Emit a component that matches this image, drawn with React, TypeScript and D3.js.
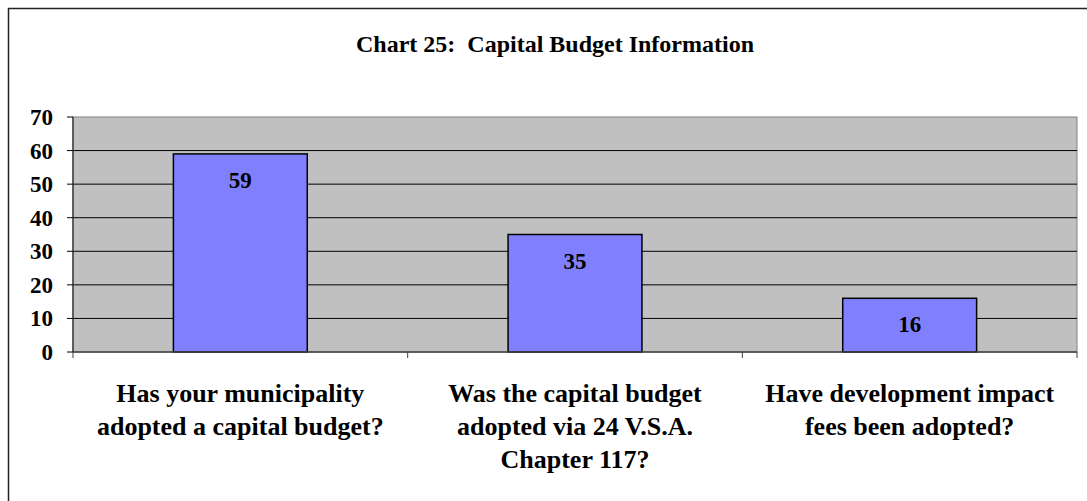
import React, { useEffect } from 'react';
import * as d3 from 'd3';

const title = 'Chart 25:  Capital Budget Information';
const categories = [
  ['Has your municipality', 'adopted a capital budget?'],
  ['Was the capital budget', 'adopted via 24 V.S.A.', 'Chapter 117?'],
  ['Have development impact', 'fees been adopted?'],
];
const values = [59, 35, 16];
const yTicks = [0, 10, 20, 30, 40, 50, 60, 70];

const App = () => {
  useEffect(() => {
    document.body.style.margin = '0';
  }, []);

  const width = 1087;
  const height = 501;
  const m = { left: 73, right: 1077, top: 117, bottom: 352 };
  const font = '"Liberation Serif", "Times New Roman", serif';

  const x = d3
    .scaleBand<number>()
    .domain(d3.range(values.length))
    .range([m.left, m.right])
    .paddingInner(0.6)
    .paddingOuter(0.3);
  const x0 = d3.scaleLinear().domain([0, values.length]).range([m.left, m.right]);
  const y = d3.scaleLinear().domain([0, 70]).range([m.bottom, m.top]);
  const cx = (i: number) => (x(i) as number) + x.bandwidth() / 2;

  return (
    <svg width={width} height={height} style={{ display: 'block' }} fontFamily={font}>
      <rect x={0} y={0} width={width} height={height} fill="#fff" />
      <rect x={8.5} y={8.5} width={width + 10} height={height + 10} fill="none" stroke="#222" strokeWidth={1.5} />
      <text x={555} y={52} textAnchor="middle" fontWeight="bold" fontSize={24} style={{ whiteSpace: 'pre' }}>
        {title}
      </text>

      {/* plot area */}
      <rect x={m.left} y={m.top} width={m.right - m.left} height={m.bottom - m.top} fill="#c0c0c0" stroke="#808080" />
      {yTicks.slice(1, -1).map((t) => (
        <line key={t} x1={m.left} x2={m.right} y1={y(t)} y2={y(t)} stroke="#000" strokeWidth={1} />
      ))}

      {values.map((v, i) => (
        <g key={i}>
          <rect
            x={x(i)}
            y={y(v)}
            width={x.bandwidth()}
            height={y(0) - y(v)}
            fill="#8080ff"
            stroke="#000"
            strokeWidth={1.5}
          />
          <text x={cx(i)} y={y(v) + 34} textAnchor="middle" fontWeight="bold" fontSize={23}>
            {v}
          </text>
        </g>
      ))}

      {/* y axis */}
      <line x1={m.left} x2={m.left} y1={m.top} y2={m.bottom} stroke="#404040" strokeWidth={1.5} />
      {yTicks.map((t) => (
        <g key={t}>
          <line x1={m.left - 6} x2={m.left} y1={y(t)} y2={y(t)} stroke="#000" />
          <text x={53} y={y(t) + 8} textAnchor="end" fontWeight="bold" fontSize={23}>
            {t}
          </text>
        </g>
      ))}

      {/* x axis */}
      <line x1={m.left} x2={m.right} y1={m.bottom} y2={m.bottom} stroke="#404040" strokeWidth={1.5} />
      {d3.range(values.length + 1).map((k) => (
        <line key={k} x1={x0(k)} x2={x0(k)} y1={m.bottom} y2={m.bottom + 6} stroke="#404040" />
      ))}
      {categories.map((lines, i) => (
        <text key={i} x={cx(i)} textAnchor="middle" fontWeight="bold" fontSize={26}>
          {lines.map((l, j) => (
            <tspan key={j} x={cx(i)} y={402 + j * 33}>
              {l}
            </tspan>
          ))}
        </text>
      ))}
    </svg>
  );
};

export default App;
